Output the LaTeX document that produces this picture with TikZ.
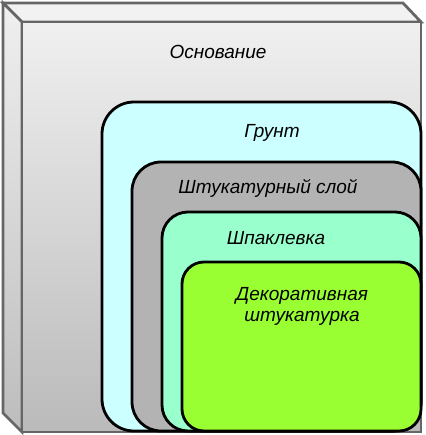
\documentclass[tikz,border=0pt]{standalone}
\usepackage{fontspec}
\setmainfont{Liberation Sans}

\definecolor{edgegray}{HTML}{666666}
\definecolor{layercyan}{HTML}{CCFFFF}
\definecolor{layergray}{HTML}{B3B3B3}
\definecolor{layermint}{HTML}{99FFCC}
\definecolor{layergreen}{HTML}{99FF33}

\begin{document}
\begin{tikzpicture}[x=1pt,y=-1pt]
    \tikzstyle{every node}+=[inner sep=0pt, font=\itshape\fontsize{19}{21}\selectfont]
    \tikzstyle{boxline}=[edgegray, line width=2.8pt, line join=miter]
    \tikzstyle{layer}=[black, line width=2.8pt]
    \useasboundingbox (0,0) rectangle (425,435);
    % wall base: top, left side, front face
    \draw [boxline, fill=black!5] (3,3) -- (403,3) -- (421,22) -- (22,22) -- cycle;
    \draw [boxline, top color=black!6, bottom color=black!26] (3,3) -- (22,22) -- (22,432) -- (3,413) -- cycle;
    \draw [boxline, top color=black!6, bottom color=black!27] (22,22) rectangle (421,432);
    \node (base) at (218,52) {Основание};
    % layers
    \draw [layer, fill=layercyan, rounded corners=32pt] (102,102) rectangle (421,431);
    \node (primer) at (272,133) {Грунт};
    \draw [layer, fill=layergray, rounded corners=29pt] (132,162) rectangle (421,431);
    \node (plaster) at (268,188) {Штукатурный слой};
    \draw [layer, fill=layermint, rounded corners=26pt] (162,212) rectangle (421,431);
    \node (putty) at (276,238) {Шпаклевка};
    \draw [layer, fill=layergreen, rounded corners=22pt] (182,262) rectangle (421,431);
    \node (finish) [align=center] at (302,306) {Декоративная\\штукатурка};
\end{tikzpicture}
\end{document}
